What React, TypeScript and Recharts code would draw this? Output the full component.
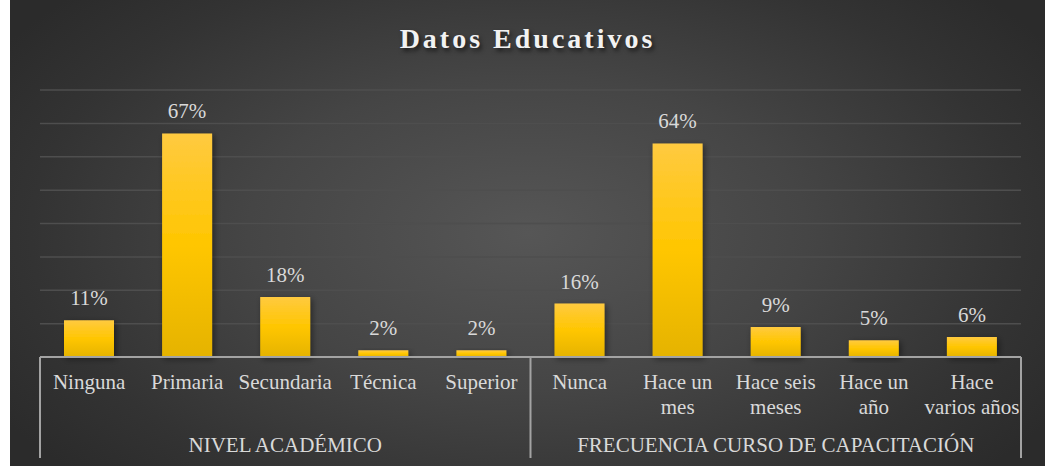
import React from "react";
import {
  BarChart,
  Bar,
  XAxis,
  YAxis,
  CartesianGrid,
  LabelList,
} from "recharts";

const categories = [
  "Ninguna",
  "Primaria",
  "Secundaria",
  "Técnica",
  "Superior",
  "Nunca",
  "Hace un\nmes",
  "Hace seis\nmeses",
  "Hace un\naño",
  "Hace\nvarios años",
];
const values = [11, 67, 18, 2, 2, 16, 64, 9, 5, 6];
const groups = ["NIVEL ACADÉMICO", "FRECUENCIA CURSO DE CAPACITACIÓN"];
const groupSizes = [5, 5];
const yTicks = [0, 10, 20, 30, 40, 50, 60, 70, 80];

const data = categories.map((name, i) => ({ name, value: values[i] }));

const FONT = '"Liberation Serif", "Times New Roman", serif';
const TEXT = "#d9d9d9";
const LINE = "#a3a3a3";

const CategoryTick = (props: any) => {
  const { x, y, payload, index, width, visibleTicksCount } = props;
  const half =
    payload && typeof payload.offset === "number" && payload.offset > 0
      ? payload.offset
      : width / visibleTicksCount / 2;
  const lines = String(payload.value).split("\n");

  // group boundaries and group label positions
  const parts: React.ReactNode[] = [];
  let start = 0;
  groupSizes.forEach((size, g) => {
    const end = start + size - 1;
    if (index === start && g === 0) {
      parts.push(
        <line key={"l" + g} x1={x - half} x2={x - half} y1={y} y2={y + 101} stroke={LINE} strokeWidth={2} />
      );
    }
    if (index === end) {
      parts.push(
        <line key={"r" + g} x1={x + half} x2={x + half} y1={y} y2={y + 101} stroke={LINE} strokeWidth={2} />
      );
    }
    const mid = start + (size - 1) / 2;
    if (Math.floor(mid) === index) {
      const cx = x + (mid - index) * half * 2;
      parts.push(
        <text key={"g" + g} x={cx} y={y + 95} textAnchor="middle" fill={TEXT} fontSize={21} fontFamily={FONT}>
          {groups[g]}
        </text>
      );
    }
    start += size;
  });

  return (
    <g>
      {lines.map((t, i) => (
        <text
          key={i}
          x={x}
          y={y + 32 + i * 25}
          textAnchor="middle"
          fill={TEXT}
          fontSize={21}
          fontFamily={FONT}
        >
          {t}
        </text>
      ))}
      {parts}
    </g>
  );
};

export default function App() {
  return (
    <div
      style={{
        position: "absolute",
        left: 10,
        top: 0,
        width: 1035,
        height: 466,
        background:
          "radial-gradient(ellipse 60% 75% at 50% 50%, #565656 0%, #454545 45%, #333333 80%, #2b2b2b 100%)",
        fontFamily: FONT,
      }}
    >
      <div
        style={{
          position: "absolute",
          top: 22,
          left: 0,
          width: "100%",
          textAlign: "center",
          fontSize: 28,
          fontWeight: "bold",
          letterSpacing: 3,
          color: "#f2f2f2",
          textShadow: "2px 3px 4px rgba(0,0,0,0.6)",
          lineHeight: "34px",
        }}
      >
        Datos Educativos
      </div>
      <BarChart
        width={1035}
        height={466}
        data={data}
        margin={{ top: 90, right: 24, left: 30, bottom: 0 }}
        style={{ position: "absolute", left: 0, top: 0 }}
      >
        <defs>
          <linearGradient id="goldBar" x1="0" y1="0" x2="0" y2="1">
            <stop offset="0%" stopColor="#ffca40" />
            <stop offset="50%" stopColor="#ffc600" />
            <stop offset="100%" stopColor="#e5b300" />
          </linearGradient>
          <filter id="barShadow" x="-20%" y="-20%" width="150%" height="150%">
            <feDropShadow dx="2" dy="2" stdDeviation="3" floodColor="#000" floodOpacity="0.45" />
          </filter>
        </defs>
        <CartesianGrid vertical={false} stroke="#4e4e4e" strokeWidth={1.5} />
        <YAxis hide domain={[0, 80]} ticks={yTicks} />
        <XAxis
          dataKey="name"
          height={109}
          interval={0}
          tickLine={false}
          tickSize={0}
          tickMargin={0}
          axisLine={{ stroke: LINE, strokeWidth: 2 }}
          tick={<CategoryTick />}
        />
        <Bar
          dataKey="value"
          barSize={50}
          fill="url(#goldBar)"
          filter="url(#barShadow)"
          isAnimationActive={false}
        >
          <LabelList
            dataKey="value"
            position="top"
            offset={15}
            formatter={(v: any) => `${v}%`}
            fill={TEXT}
            fontSize={21}
            fontFamily={FONT}
          />
        </Bar>
      </BarChart>
    </div>
  );
}
